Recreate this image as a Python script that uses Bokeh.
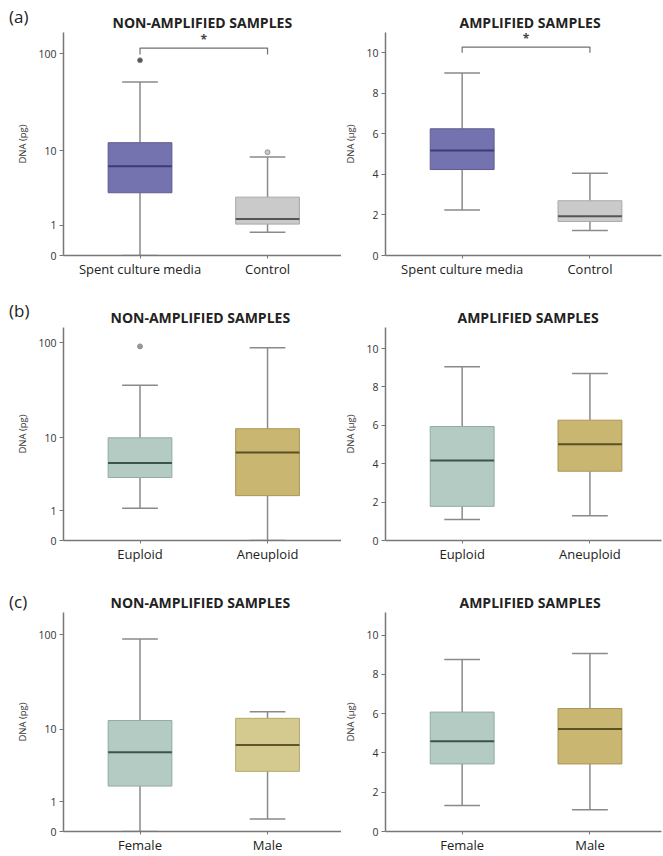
import numpy as np
from bokeh.plotting import figure
from bokeh.models import FixedTicker, Range1d, GridBox, Div
from bokeh.embed import file_html
from bokeh.resources import INLINE
from bokeh.core.properties import value

FONT = "Open Sans"

# ---------------- data ----------------
# (a) Spent culture media vs Control
A_CATS = ["Spent culture media", "Control"]
A_NON_LOW = [0.0, 0.7]
A_NON_Q1 = [3.2, 1.05]
A_NON_MED = [6.7, 1.3]
A_NON_Q3 = [12.2, 2.8]
A_NON_HIGH = [51.8, 8.5]
A_NON_OUT_CAT = [0, 1]
A_NON_OUT_VAL = [86.0, 9.6]
A_AMP_LOW = [2.24, 1.23]
A_AMP_Q1 = [4.24, 1.68]
A_AMP_MED = [5.18, 1.94]
A_AMP_Q3 = [6.25, 2.70]
A_AMP_HIGH = [9.0, 4.06]

# (b) Euploid vs Aneuploid
B_CATS = ["Euploid", "Aneuploid"]
B_NON_LOW = [1.12, 0.0]
B_NON_Q1 = [3.35, 1.85]
B_NON_MED = [5.1, 6.8]
B_NON_Q3 = [10.0, 12.6]
B_NON_HIGH = [36.6, 89.0]
B_NON_OUT_CAT = [0]
B_NON_OUT_VAL = [92.0]
B_AMP_LOW = [1.09, 1.29]
B_AMP_Q1 = [1.78, 3.61]
B_AMP_MED = [4.17, 5.02]
B_AMP_Q3 = [5.94, 6.27]
B_AMP_HIGH = [9.06, 8.70]

# (c) Female vs Male
C_CATS = ["Female", "Male"]
C_NON_LOW = [0.0, 0.34]
C_NON_Q1 = [1.9, 3.1]
C_NON_MED = [5.4, 6.6]
C_NON_Q3 = [12.5, 13.2]
C_NON_HIGH = [90.5, 15.6]
C_AMP_LOW = [1.32, 1.11]
C_AMP_Q1 = [3.44, 3.44]
C_AMP_MED = [4.6, 5.22]
C_AMP_Q3 = [6.08, 6.26]
C_AMP_HIGH = [8.76, 9.06]

LOG_TICKS = [0, 1, 10, 100]
LIN_TICKS = [0, 2, 4, 6, 8, 10]
SIG_NON = [114.0, 98.0]   # significance bracket: top, ends (pg)
SIG_AMP = [10.28, 10.0]   # significance bracket: top, ends (ug)
TAGS = ["(a)", "(b)", "(c)"]

# ---------------- styles ----------------
PURPLE = ("#7473b0", "#3d3c72", "#5d5c92")
GREY = ("#cacaca", "#555555", "#a8a8a8")
SAGE = ("#b3cbc3", "#3c5448", "#93aba3")
KHAKI = ("#c9b671", "#5c5025", "#a99656")
SAND = ("#d4c98e", "#5c5530", "#b4a96e")
WHISK = "#8a8a8a"
AXIS = "#777777"


def tlog(v):
    return np.log10(1.0 + np.asarray(v, dtype=float))


def panel(cats, low, q1, med, q3, high, styles, title, log, width, height,
          borders, x_end, y_end, title_off, out_cat=None, out_val=None,
          out_colors=None, sig=None):
    f = tlog if log else (lambda v: np.asarray(v, dtype=float))
    bl, br, bt, bb = borders
    p = figure(width=width, height=height, output_backend="svg",
               toolbar_location=None, x_range=Range1d(-0.6, x_end),
               y_range=Range1d(0, y_end), min_border_left=bl,
               min_border_right=br, min_border_top=bt, min_border_bottom=bb,
               title=title)
    p.outline_line_color = None
    p.grid.visible = False
    p.background_fill_color = "white"
    p.border_fill_color = None
    p.title.align = "left"
    p.title.offset = title_off
    p.title.text_font = FONT
    p.title.text_font_style = "bold"
    p.title.text_font_size = "14px"
    p.title.text_color = "#222222"
    p.title.standoff = 2

    xs = np.arange(len(cats), dtype=float)
    lo, a1, md, a3, hi = f(low), f(q1), f(med), f(q3), f(high)
    # whiskers
    p.segment(x0=xs, y0=a3, x1=xs, y1=hi, line_color=WHISK, line_width=1.5)
    p.segment(x0=xs, y0=a1, x1=xs, y1=lo, line_color=WHISK, line_width=1.5)
    p.segment(x0=xs - 0.14, y0=hi, x1=xs + 0.14, y1=hi, line_color=WHISK, line_width=1.5)
    p.segment(x0=xs - 0.14, y0=lo, x1=xs + 0.14, y1=lo, line_color=WHISK, line_width=1.5)
    # boxes
    fills = [s[0] for s in styles]
    meds = [s[1] for s in styles]
    edges = [s[2] for s in styles]
    p.vbar(x=xs, width=0.5, bottom=a1, top=a3, fill_color=fills,
           line_color=edges, line_width=1)
    p.segment(x0=xs - 0.25, y0=md, x1=xs + 0.25, y1=md, line_color=meds,
              line_width=2)
    if out_cat is not None:
        p.scatter(x=out_cat, y=f(out_val), size=5, fill_color=out_colors,
                  line_color="#888888", line_width=0.8)
    if sig is not None:
        top, tip = f(sig[0]), f(sig[1])
        p.line(x=[xs[0], xs[0], xs[1], xs[1]], y=[tip, top, top, tip],
               line_color="#707070", line_width=1.2)
        p.text(x=[(xs[0] + xs[1]) / 2], y=[top], text=["*"],
               text_align="center", text_baseline="bottom",
               text_font=value(FONT), text_font_size="12px",
               text_font_style="bold", text_color="#444444")

    # axes
    ya = p.yaxis[0]
    if log:
        tv = [float(v) for v in tlog(LOG_TICKS)]
        ya.ticker = FixedTicker(ticks=tv)
        ya.major_label_overrides = {t: str(l) for t, l in zip(tv, LOG_TICKS)}
        ya.axis_label = "DNA (pg)"
    else:
        ya.ticker = FixedTicker(ticks=LIN_TICKS)
        ya.axis_label = "DNA (\u00b5g)"
    ya.axis_label_text_font = FONT
    ya.axis_label_text_font_size = "9.5px"
    ya.axis_label_text_font_style = "normal"
    ya.axis_label_text_color = "#333333"
    ya.axis_label_standoff = 6
    ya.major_label_text_font = FONT
    ya.major_label_text_font_size = "10.5px"
    ya.major_label_text_color = "#333333"
    ya.major_label_standoff = 3
    ya.minor_tick_line_color = None
    ya.major_tick_in = 0
    ya.major_tick_out = 4
    ya.major_tick_line_color = AXIS
    ya.axis_line_color = AXIS
    ya.axis_line_width = 1.5

    xa = p.xaxis[0]
    xa.ticker = FixedTicker(ticks=[0, 1])
    xa.major_label_overrides = {0: cats[0], 1: cats[1]}
    xa.major_label_text_font = FONT
    xa.major_label_text_font_size = "13px"
    xa.major_label_text_color = "#222222"
    xa.major_label_standoff = 1
    xa.minor_tick_line_color = None
    xa.major_tick_in = 0
    xa.major_tick_out = 3
    xa.major_tick_line_color = AXIS
    xa.axis_line_color = AXIS
    xa.axis_line_width = 1.5
    return p


def tag_div(text, top):
    return Div(text=text, width=34, height=24, align="start",
               margin=(top, 0, 0, 9),
               styles={"font-family": FONT, "font-size": "17px",
                       "color": "#222222", "line-height": "20px"})


LW, RW = 341, 322
pa1 = panel(A_CATS, A_NON_LOW, A_NON_Q1, A_NON_MED, A_NON_Q3, A_NON_HIGH,
            [PURPLE, GREY], "NON-AMPLIFIED SAMPLES", True, LW, 280,
            (63, 0, 28, 24), 1.58, 2.215, 49,
            out_cat=A_NON_OUT_CAT, out_val=A_NON_OUT_VAL,
            out_colors=["#555555", "#c8c8c8"], sig=SIG_NON)
pa2 = panel(A_CATS, A_AMP_LOW, A_AMP_Q1, A_AMP_MED, A_AMP_Q3, A_AMP_HIGH,
            [PURPLE, GREY], "AMPLIFIED SAMPLES", False, RW, 280,
            (43, 2, 32, 25), 1.56, 11.0, 74, sig=SIG_AMP)
pb1 = panel(B_CATS, B_NON_LOW, B_NON_Q1, B_NON_MED, B_NON_Q3, B_NON_HIGH,
            [SAGE, KHAKI], "NON-AMPLIFIED SAMPLES", True, LW, 285,
            (63, 0, 47, 22), 1.58, 2.16, 47,
            out_cat=B_NON_OUT_CAT, out_val=B_NON_OUT_VAL, out_colors=["#999999"])
pb2 = panel(B_CATS, B_AMP_LOW, B_AMP_Q1, B_AMP_MED, B_AMP_Q3, B_AMP_HIGH,
            [SAGE, KHAKI], "AMPLIFIED SAMPLES", False, RW, 285,
            (43, 2, 40, 21), 1.56, 11.1, 72)
pc1 = panel(C_CATS, C_NON_LOW, C_NON_Q1, C_NON_MED, C_NON_Q3, C_NON_HIGH,
            [SAGE, SAND], "NON-AMPLIFIED SAMPLES", True, LW, 291,
            (63, 0, 47, 20), 1.58, 2.23, 47)
pc2 = panel(C_CATS, C_AMP_LOW, C_AMP_Q1, C_AMP_MED, C_AMP_Q3, C_AMP_HIGH,
            [SAGE, KHAKI], "AMPLIFIED SAMPLES", False, RW, 291,
            (43, 2, 47, 19), 1.56, 11.15, 74)

grid = GridBox(children=[
    (pa1, 0, 0), (pa2, 0, 1), (tag_div(TAGS[0], 7), 0, 0),
    (pb1, 1, 0), (pb2, 1, 1), (tag_div(TAGS[1], 21), 1, 0),
    (pc1, 2, 0), (pc2, 2, 1), (tag_div(TAGS[2], 27), 2, 0),
], spacing=0)

with open("out.html", "w") as fh:
    fh.write(file_html(grid, INLINE))
